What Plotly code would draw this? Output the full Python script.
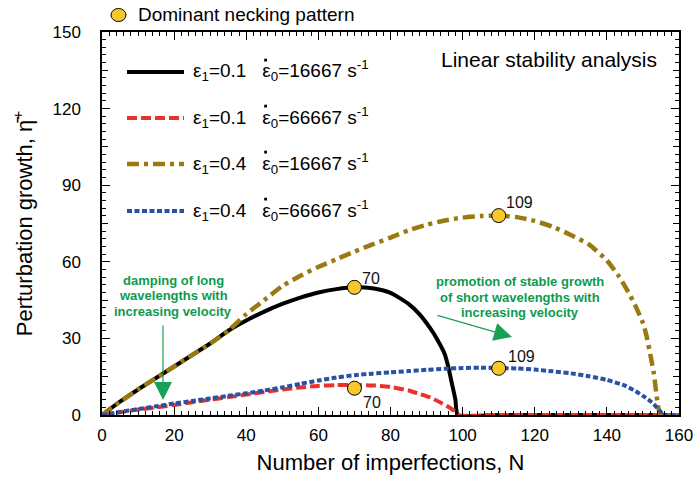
import plotly.graph_objects as go

# ---------------- data ----------------
n_black = [0, 5, 10, 15, 20, 25, 30, 35, 40, 45, 50, 55, 60, 65, 70, 75, 80, 85, 88, 91, 93, 95, 96, 97, 98, 98.7, 110, 130, 160]
y_black = [0, 5.2, 10, 14.5, 19, 23.5, 28, 33, 37, 40.5, 43.5, 46, 48, 49.3, 50, 49.6, 47.8, 43.5, 39.5, 34, 29.5, 24, 19, 12.5, 6, 0, 0, 0, 0]

n_red = [0, 5, 10, 15, 20, 25, 30, 35, 40, 45, 50, 55, 60, 65, 70, 75, 80, 85, 88, 91, 94, 96, 97.5, 98.7, 110, 130, 160]
y_red = [0, 1.1, 2.1, 3.0, 3.9, 5.0, 6.0, 7.0, 8.0, 9.0, 10.0, 10.8, 11.4, 11.7, 11.8, 11.6, 11.0, 9.6, 8.3, 6.9, 4.8, 3.2, 1.8, 0, 0, 0, 0]

n_gold = [0, 5, 10, 15, 20, 25, 30, 35, 40, 45, 50, 55, 60, 65, 70, 75, 80, 85, 90, 95, 100, 105, 110, 115, 120, 125, 130, 135, 140, 143, 146, 148, 150, 151, 152, 153, 154, 154.9, 160]
y_gold = [0, 5.2, 10, 14.5, 19, 23.5, 28, 33, 39.5, 45, 50.5, 54.5, 58, 61, 64, 66.8, 69.5, 72.3, 74.5, 76.2, 77.3, 77.9, 78.1, 77.5, 76, 73.7, 70.5, 66.8, 60.5, 55, 48, 42.5, 36, 31, 24, 16.5, 5.5, 0, 0]

n_blue = [0, 5, 10, 15, 20, 25, 30, 35, 40, 45, 50, 55, 60, 65, 70, 75, 80, 85, 90, 95, 100, 105, 110, 115, 120, 125, 130, 135, 140, 145, 148, 150, 152, 153, 154, 155, 155.3, 160]
y_blue = [0, 1.2, 2.3, 3.4, 4.5, 5.5, 6.5, 7.5, 8.5, 9.6, 10.8, 12.2, 13.5, 14.7, 15.6, 16.2, 16.7, 17.2, 17.7, 18.1, 18.4, 18.5, 18.4, 18.2, 17.8, 17.1, 16.3, 15.2, 13.7, 11.5, 9.3, 7.5, 5.5, 4.2, 2.7, 1.2, 0, 0]

peak_n = [70, 70, 110, 110]
peak_eta = [50, 10.5, 78.1, 18.3]
peak_labels = ["70", "70", "109", "109"]

legend_labels = [
    "ε<sub>1</sub>=0.1\u00a0\u00a0\u00a0ε<sub>0</sub>=16667 s<sup>-1</sup>",
    "ε<sub>1</sub>=0.1\u00a0\u00a0\u00a0ε<sub>0</sub>=66667 s<sup>-1</sup>",
    "ε<sub>1</sub>=0.4\u00a0\u00a0\u00a0ε<sub>0</sub>=16667 s<sup>-1</sup>",
    "ε<sub>1</sub>=0.4\u00a0\u00a0\u00a0ε<sub>0</sub>=66667 s<sup>-1</sup>",
]

x_ticks = [0, 20, 40, 60, 80, 100, 120, 140, 160]
y_ticks = [0, 30, 60, 90, 120, 150]
y_mid_ticks = [15, 45, 75, 105, 135]

# ---------------- styles ----------------
FONT = "Liberation Sans, Arial, Helvetica, sans-serif"
C_BLACK = "#000000"
C_RED = "#E8322B"
C_GOLD = "#9A7A10"
C_BLUE = "#2A52A3"
C_GREEN = "#0E9A4C"
C_MARK = "#F7C72E"

styles = [
    dict(color=C_BLACK, width=4, dash="solid"),
    dict(color=C_RED, width=4, dash="10px,4px"),
    dict(color=C_GOLD, width=4.5, dash="12px,5px,4px,5px"),
    dict(color=C_BLUE, width=4, dash="5px,2.5px"),
]
series = [(n_black, y_black), (n_red, y_red), (n_gold, y_gold), (n_blue, y_blue)]

fig = go.Figure()
for (xs, ys), st in zip(series, styles):
    fig.add_trace(go.Scatter(x=xs, y=ys, mode="lines", line=dict(shape="spline", smoothing=0.6, **st),
                             showlegend=False, hoverinfo="skip"))

fig.add_trace(go.Scatter(x=peak_n, y=peak_eta, mode="markers",
                         marker=dict(size=14, color=C_MARK, line=dict(color="black", width=1)),
                         showlegend=False, hoverinfo="skip", cliponaxis=False))

# invisible trace to carry the mid-tick overlay axis
fig.add_trace(go.Scatter(x=[None], y=[None], yaxis="y2", showlegend=False, hoverinfo="skip"))

annotations = []
shifts = [(17, 9), (18, -14), (21, 13), (23, 12)]
for xn, ye, lab, (dx, dy) in zip(peak_n, peak_eta, peak_labels, shifts):
    annotations.append(dict(x=xn, y=ye, xref="x", yref="y", text=lab, showarrow=False,
                            xshift=dx, yshift=dy, font=dict(size=16, color="#111", family=FONT)))

# pixel -> paper helpers (plot area: x 102..679, y 32..415)
L, R, T, B = 102, 679, 32, 415
def px(p):
    return (p - L) / (R - L)
def py(p):
    return (B - p) / (B - T)

shapes = []
rows_y = [72, 118, 164, 211]
for st, ry, lab in zip(styles, rows_y, legend_labels):
    shapes.append(dict(type="line", xref="paper", yref="paper", x0=px(127), x1=px(184), y0=py(ry), y1=py(ry),
                       line=dict(color=st["color"], width=st["width"], dash=st["dash"])))
    annotations.append(dict(x=px(191), y=py(ry - 1), xref="paper", yref="paper", text=lab, showarrow=False,
                            xanchor="left", yanchor="middle", font=dict(size=19, color="black", family=FONT)))
    # rate dot above the second epsilon
    shapes.append(dict(type="rect", xref="paper", yref="paper", x0=px(264.2), x1=px(267.0),
                       y0=py(ry - 10.5), y1=py(ry - 13.3), fillcolor="black", line=dict(width=0)))

# dominant necking pattern key
shapes.append(dict(type="circle", xref="paper", yref="paper", x0=px(111), x1=px(126), y0=py(21.5), y1=py(8.5),
                   fillcolor=C_MARK, line=dict(color="black", width=1)))
annotations.append(dict(x=px(136), y=py(15), xref="paper", yref="paper", text="Dominant necking pattern",
                        showarrow=False, xanchor="left", yanchor="middle", font=dict(size=19, color="black", family=FONT)))

annotations.append(dict(x=px(659), y=py(59), xref="paper", yref="paper", text="Linear stability analysis",
                        showarrow=False, xanchor="right", yanchor="middle", font=dict(size=21, color="black", family=FONT)))

# green notes
g1 = ["damping of long", "wavelengths with", "increasing velocity"]
for t, yy in zip(g1, [280, 295.5, 311.5]):
    annotations.append(dict(x=px(173), y=py(yy), xref="paper", yref="paper", text="<b>%s</b>" % t, showarrow=False,
                            xanchor="center", yanchor="middle", font=dict(size=13, color=C_GREEN, family=FONT)))
g2 = ["promotion of stable growth", "of short wavelengths with", "increasing velocity"]
for t, yy in zip(g2, [281.5, 297, 312.5]):
    annotations.append(dict(x=px(520), y=py(yy), xref="paper", yref="paper", text="<b>%s</b>" % t, showarrow=False,
                            xanchor="center", yanchor="middle", font=dict(size=13, color=C_GREEN, family=FONT)))

annotations.append(dict(x=px(163), y=py(400), xref="paper", yref="paper", text="", showarrow=True,
                        ax=0, ay=-76, arrowhead=2, arrowsize=3.0, arrowwidth=1.2, arrowcolor="#18A055", standoff=0))
annotations.append(dict(x=px(512), y=py(337), xref="paper", yref="paper", text="", showarrow=True,
                        ax=-76, ay=-22, arrowhead=2, arrowsize=3.0, arrowwidth=1.2, arrowcolor="#18A055", standoff=0))

axis_common = dict(showline=True, linecolor="black", linewidth=1.5, mirror="ticks", ticks="inside",
                   tickcolor="black", tickwidth=1.2, ticklen=8, showgrid=False, zeroline=False, automargin=False,
                   tickfont=dict(size=17, color="black", family=FONT))

fig.update_layout(
    width=698, height=477,
    margin=dict(l=L, r=698 - R, t=T, b=477 - B, autoexpand=False),
    paper_bgcolor="white", plot_bgcolor="white",
    font=dict(family=FONT, color="black"),
    xaxis=dict(range=[0, 160], tickvals=x_ticks, ticktext=[str(v) for v in x_ticks],
               minor=dict(dtick=2, tick0=0, ticks="inside", ticklen=4, tickcolor="black", tickwidth=1),
               title=dict(text="Number of imperfections, N", font=dict(size=22, family=FONT), standoff=10),
               ticklabelstandoff=4, **axis_common),
    yaxis=dict(range=[0, 150], tickvals=y_ticks, ticktext=[str(v) for v in y_ticks],
               minor=dict(dtick=3, tick0=0, ticks="inside", ticklen=4, tickcolor="black", tickwidth=1),
               title=dict(text="Perturbation growth, η\u0304<sup>+</sup>", font=dict(size=22, family=FONT), standoff=14),
               ticklabelstandoff=16, **axis_common),
    yaxis2=dict(range=[0, 150], overlaying="y", side="left", tickvals=y_mid_ticks, showticklabels=False,
                showline=True, linecolor="black", linewidth=1.5, mirror="ticks", ticks="inside",
                tickcolor="black", tickwidth=1.2, ticklen=6, showgrid=False, zeroline=False, automargin=False),
    shapes=shapes, annotations=annotations,
)

fig.write_html("out.html", config={"displayModeBar": False},
               post_script="document.body.style.margin='0px';document.body.style.padding='0px';")
